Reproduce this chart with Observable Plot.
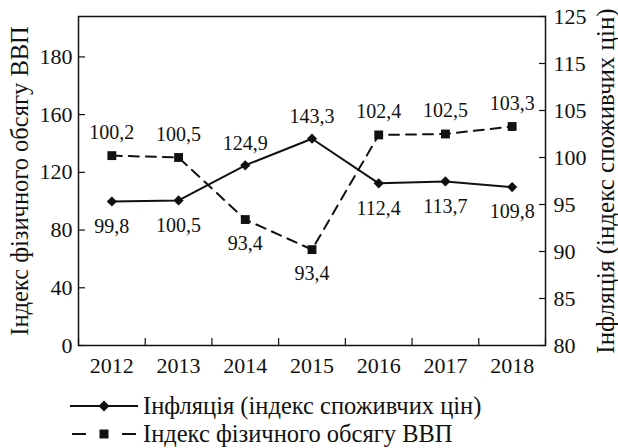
<!DOCTYPE html>
<html><head><meta charset="utf-8">
<script src="https://cdn.jsdelivr.net/npm/d3@7"></script>
<script src="https://cdn.jsdelivr.net/npm/@observablehq/plot@0.6"></script>
<style>
body{margin:0;background:#fff;font-family:'Liberation Serif',serif;color:#111}
#chart svg{display:block}
#chart svg text{font-family:'Liberation Serif',serif !important}
.row{position:relative;height:26px;width:618px}
.row:first-child{height:30px}
.row svg{position:absolute;left:68px;top:0}
.row span{position:absolute;left:143px;top:0;line-height:26px;font-size:24.5px;white-space:nowrap;font-family:'Liberation Serif',serif}
.row:first-child span{line-height:30px}
</style></head><body>
<div id="chart"></div>
<div id="legend"></div>
<script>
const years = [2012, 2013, 2014, 2015, 2016, 2017, 2018];
const inflation = [99.8, 100.5, 124.9, 143.3, 112.4, 113.7, 109.8];
const inflationLabels = ["99,8", "100,5", "124,9", "143,3", "112,4", "113,7", "109,8"];
const inflationLabelSide = ["below", "below", "above", "above", "below", "below", "below"];
const gdp = [100.2, 100.0, 93.4, 90.2, 102.4, 102.5, 103.3];
const gdpLabels = ["100,2", "100,5", "93,4", "93,4", "102,4", "102,5", "103,3"];
const gdpLabelSide = ["above", "above", "below", "below", "above", "above", "above"];
const leftTicks = [0, 40, 80, 120, 160, 200];
const leftTickLabels = ["0", "40", "80", "120", "160", "180"];
const rightTicks = [80, 85, 90, 95, 100, 105, 110, 115];
const rightTickLabels = ["80", "85", "90", "95", "100", "105", "115", "125"];
const leftTitle = "Індекс фізичного обсягу ВВП";
const rightTitle = "Інфляція (індекс споживчих цін)";
const legendLabels = ["Інфляція (індекс споживчих цін)", "Індекс фізичного обсягу ВВП"];

const leftDomain = [0, 228];
const rightDomain = [80, 115];
const toLeft = d3.scaleLinear(rightDomain, leftDomain);

const data = years.map((year, i) => ({
  year, inflation: inflation[i], infLabel: inflationLabels[i], infSide: inflationLabelSide[i],
  gdp: toLeft(gdp[i]), gdpLabel: gdpLabels[i], gdpSide: gdpLabelSide[i]
}));
const bounds = years.map(y => y - 0.5).concat([years[years.length - 1] + 0.5]);
const ink = "#111";
const fs = 20;
const serif = "Liberation Serif";

const chart = Plot.plot({
  width: 618, height: 391,
  marginTop: 16, marginBottom: 46, marginLeft: 78, marginRight: 73,
  style: {fontFamily: serif, fontSize: "22px", color: ink, background: "#fff"},
  x: {domain: [years[0] - 0.5, years[years.length - 1] + 0.5], axis: null, label: null},
  y: {domain: leftDomain, axis: null, label: null},
  marks: [
    Plot.axisX(bounds, {tickSize: -7, tickFormat: () => "", label: null, stroke: ink, strokeWidth: 1.2}),
    Plot.axisX(years, {tickSize: 0, tickPadding: 12, label: null, tickFormat: d => String(d), fontSize: 22, fontFamily: serif, fill: ink}),
    Plot.axisY(leftTicks, {anchor: "left", tickSize: -7, label: null, tickFormat: () => "", stroke: ink, strokeWidth: 1.2}),
    Plot.axisY(leftTicks, {anchor: "left", tickSize: 0, tickPadding: 6, label: null, tickFormat: (d, i) => leftTickLabels[i], fontSize: 22, fontFamily: serif, fill: ink}),
    Plot.axisY(rightTicks.map(toLeft), {anchor: "right", tickSize: -7, label: null, tickFormat: () => "", stroke: ink, strokeWidth: 1.2}),
    Plot.axisY(rightTicks.map(toLeft), {anchor: "right", tickSize: 0, tickPadding: 8, label: null, tickFormat: (d, i) => rightTickLabels[i], fontSize: 22, fontFamily: serif, fill: ink}),
    Plot.text([leftTitle], {frameAnchor: "left", textAnchor: "middle", lineAnchor: "middle", rotate: -90, dx: -58, fontSize: 24.5, fontFamily: serif, fill: ink}),
    Plot.text([rightTitle], {frameAnchor: "right", textAnchor: "middle", lineAnchor: "middle", rotate: -90, dx: 60, fontSize: 25, fontFamily: serif, fill: ink}),
    Plot.line(data, {x: "year", y: "gdp", stroke: ink, strokeWidth: 2, strokeDasharray: "10,7"}),
    Plot.line(data, {x: "year", y: "inflation", stroke: ink, strokeWidth: 2}),
    Plot.dot(data, {x: "year", y: "gdp", symbol: "square", r: 5, fill: ink, stroke: "none"}),
    Plot.dot(data, {x: "year", y: "inflation", symbol: "diamond2", r: 4.6, fill: ink, stroke: "none"}),
    Plot.text(data.filter(d => d.infSide === "above"), {x: "year", y: "inflation", text: "infLabel", dy: -22, fontSize: fs, fontFamily: serif, fill: ink}),
    Plot.text(data.filter(d => d.infSide === "below"), {x: "year", y: "inflation", text: "infLabel", dy: 25, fontSize: fs, fontFamily: serif, fill: ink}),
    Plot.text(data.filter(d => d.gdpSide === "above"), {x: "year", y: "gdp", text: "gdpLabel", dy: -23, fontSize: fs, fontFamily: serif, fill: ink}),
    Plot.text(data.filter(d => d.gdpSide === "below"), {x: "year", y: "gdp", text: "gdpLabel", dy: 24, fontSize: fs, fontFamily: serif, fill: ink}),
    Plot.frame({stroke: ink, strokeWidth: 1.5})
  ]
});
document.getElementById("chart").appendChild(chart);

const legend = document.getElementById("legend");
legendLabels.forEach((label, i) => {
  const row = document.createElement("div");
  row.className = "row";
  const sw = i === 0
    ? `<svg width="72" height="30"><line x1="2" y1="15" x2="70" y2="15" stroke="${ink}" stroke-width="2"/><path d="M36,9.5L41.5,15L36,20.5L30.5,15Z" fill="${ink}"/></svg>`
    : `<svg width="72" height="26"><line x1="4" y1="13" x2="18" y2="13" stroke="${ink}" stroke-width="2"/><line x1="54" y1="13" x2="68" y2="13" stroke="${ink}" stroke-width="2"/><rect x="31.5" y="8.5" width="9" height="9" fill="${ink}"/></svg>`;
  row.innerHTML = sw + `<span>${label}</span>`;
  legend.appendChild(row);
});
</script>
</body></html>
